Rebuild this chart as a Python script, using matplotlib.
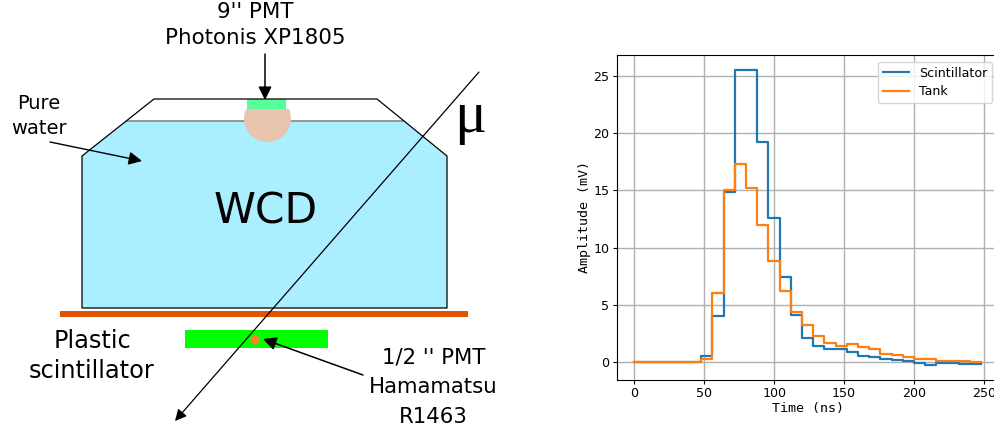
import matplotlib
matplotlib.use('Agg')
import matplotlib.pyplot as plt
from matplotlib.patches import Polygon, Rectangle, Circle

# signal traces, one sample every 8 ns
time_ns = [0, 8, 16, 24, 32, 40, 48, 56, 64, 72, 80, 88, 96, 104, 112, 120,
           128, 136, 144, 152, 160, 168, 176, 184, 192, 200, 208, 216, 224,
           232, 240, 248]
scintillator = [0, 0, 0, 0, 0, 0, 0.5, 4.0, 14.9, 25.5, 25.5, 19.2, 12.6, 7.4,
                4.1, 2.1, 1.4, 1.1, 1.1, 0.85, 0.5, 0.4, 0.25, 0.15, 0.05,
                -0.1, -0.25, -0.1, -0.1, -0.2, -0.2, -0.2]
tank = [0, 0, 0, 0, 0, 0, 0.3, 6.0, 15.0, 17.3, 15.2, 12.0, 8.8, 6.2, 4.4, 3.2,
        2.3, 1.7, 1.4, 1.6, 1.3, 1.1, 0.7, 0.6, 0.45, 0.3, 0.25, 0.1, 0.1, 0.05,
        0.0, 0.0]

# schematic outlines, in image pixels
tank_outline = [(82, 156), (154, 99), (377, 99), (447, 156), (447, 308), (82, 308)]
water_outline = [(127, 121), (403, 121), (447, 156), (447, 308), (82, 308), (82, 156)]

W, H = 994, 432
fig = plt.figure(figsize=(W / 100, H / 100), dpi=100)

# left: detector drawing
sk = fig.add_axes([0, 0, 1, 1])
sk.set_xlim(0, W)
sk.set_ylim(H, 0)
sk.axis('off')

sk.add_patch(Polygon(water_outline, closed=True, fc='#aaeeff', ec='none', zorder=1))
sk.plot([127, 403], [121, 121], color='#888888', lw=1.2, zorder=2)
sk.add_patch(Polygon(tank_outline, closed=True, fc='none', ec='black', lw=0.9, zorder=6))
pmt = Circle((267.5, 118.5), 23.5, fc='#e8c4ae', ec='none', zorder=4)
sk.add_patch(pmt)
# only the part under the green base shows
pmt.set_clip_path(Rectangle((240, 109), 55, 40, transform=sk.transData))
sk.add_patch(Rectangle((247, 99), 39, 10, fc='#55ff99', ec='none', zorder=5))
sk.add_patch(Rectangle((60, 311), 408, 6, fc='#e05500', ec='none', zorder=3))
sk.add_patch(Rectangle((185, 330), 143, 18, fc='#00ff00', ec='none', zorder=3))
sk.add_patch(Circle((255, 340), 4.5, fc='#ff7f2a', ec='none', zorder=4))


def arrow(start, end, lw=1.0, scale=20):
    sk.annotate('', xy=end, xytext=start, zorder=7,
                arrowprops=dict(arrowstyle='-|>', color='black', lw=lw,
                                mutation_scale=scale, shrinkA=0, shrinkB=0))


arrow((479, 72), (175, 421), lw=0.9, scale=17)
arrow((265, 54), (265, 100), lw=1.1)
arrow((363, 375), (263, 339), lw=1.1)
arrow((50, 142), (142, 161), lw=1.0)

sk.text(255, 25, "9'' PMT\nPhotonis XP1805", ha='center', va='center', fontsize=15.4, linespacing=1.35)
sk.text(38.5, 116, 'Pure\nwater', ha='center', va='center', fontsize=14, linespacing=1.35)
sk.text(265.5, 211, 'WCD', ha='center', va='center', fontsize=30.5)
sk.text(92, 356, 'Plastic\nscintillator', ha='center', va='center', fontsize=17.3, linespacing=1.3)
sk.text(433.5, 387, "1/2 '' PMT\nHamamatsu\nR1463", ha='center', va='center', fontsize=15.3, linespacing=1.6)
sk.text(470.5, 118, '\u03bc', ha='center', va='center', fontsize=43, family='Liberation Serif')

# right: recorded pulses
ax = fig.add_axes([617 / W, 1 - 379.5 / H, (998 - 617) / W, (379.5 - 55) / H])
ax.step(time_ns, scintillator, where='post', color='#1f77b4', lw=1.6, label='Scintillator')
ax.step(time_ns, tank, where='post', color='#ff7f0e', lw=1.6, label='Tank')
ax.set_xlim(-12.2, 260)
ax.set_ylim(-1.53, 26.85)
ax.set_xticks([0, 50, 100, 150, 200, 250])
ax.set_yticks([0, 5, 10, 15, 20, 25])
ax.tick_params(labelsize=9.1, length=3, pad=2.5)
ax.grid(True, lw=1)
ax.set_xlabel('Time (ns)', family='DejaVu Sans Mono', fontsize=9.6, labelpad=1.5)
ax.set_ylabel('Amplitude (mV)', family='DejaVu Sans Mono', fontsize=9.6, labelpad=1.5)
ax.legend(loc='upper right', bbox_to_anchor=(0.985, 0.979), borderaxespad=0, fontsize=9.1,
          labelspacing=0.4)

fig.savefig('out.png', dpi=100)
